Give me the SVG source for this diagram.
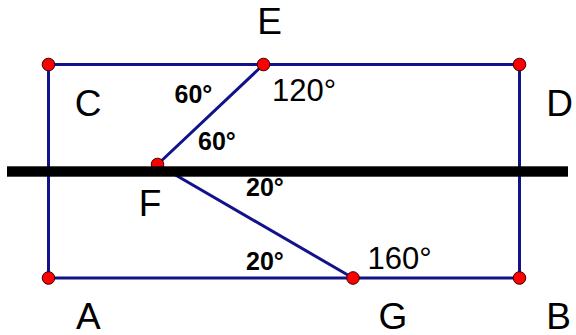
<svg xmlns="http://www.w3.org/2000/svg" width="576" height="335" viewBox="0 0 576 335">
<style>
.seg{stroke:#12128c;stroke-width:3;fill:none;stroke-linecap:round}
.pt{fill:#ff0000;stroke:#3a0000;stroke-width:1}
.lbl{font-family:"Liberation Sans",Arial,sans-serif;font-size:37px;fill:#000;text-anchor:middle}
.ang{font-family:"Liberation Sans",Arial,sans-serif;font-size:31px;fill:#000}
.angb{font-family:"Liberation Sans",Arial,sans-serif;font-size:25px;font-weight:bold;fill:#000}
</style>
<rect width="576" height="335" fill="#fff"/>
<g id="connectors">
<line class="seg" x1="48.5" y1="64.5" x2="519.5" y2="64.5"/>
<line class="seg" x1="48.5" y1="278" x2="519.5" y2="278"/>
<line class="seg" x1="48.5" y1="64.5" x2="48.5" y2="278"/>
<line class="seg" x1="519.5" y1="64.5" x2="519.5" y2="278"/>
<line class="seg" x1="263.5" y1="64.5" x2="157.5" y2="164.5"/>
<line class="seg" x1="157.5" y1="164.5" x2="353" y2="278"/>
</g>
<g id="node-C"><circle class="pt" cx="48.5" cy="64.5" r="6.3"/><text class="lbl" x="88" y="116">C</text></g>
<g id="node-D"><circle class="pt" cx="519.5" cy="64.5" r="6.3"/><text class="lbl" x="559.5" y="116">D</text></g>
<g id="node-A"><circle class="pt" cx="48.5" cy="278" r="6.3"/><text class="lbl" x="88.3" y="328.5">A</text></g>
<g id="node-B"><circle class="pt" cx="519.5" cy="278" r="6.3"/><text class="lbl" x="558.5" y="328.5">B</text></g>
<g id="node-E"><circle class="pt" cx="263.5" cy="64.5" r="6.3"/><text class="lbl" x="269.5" y="34.3">E</text></g>
<g id="node-G"><circle class="pt" cx="353" cy="278" r="6.3"/><text class="lbl" x="393" y="328.5">G</text></g>
<g id="node-F"><circle class="pt" cx="157.5" cy="164.5" r="6.3"/><text class="lbl" x="150" y="216">F</text></g>
<g id="line">
<rect x="7" y="166.3" width="561" height="10.4" fill="#000"/>
</g>
<g id="angles">
<text class="angb" x="174.5" y="102.5">60°</text>
<text class="angb" x="198" y="150">60°</text>
<text class="ang" x="272" y="101">120°</text>
<text class="angb" x="246" y="195.5">20°</text>
<text class="angb" x="246" y="269.5">20°</text>
<text class="ang" x="367.5" y="268.5">160°</text>
</g>
</svg>
